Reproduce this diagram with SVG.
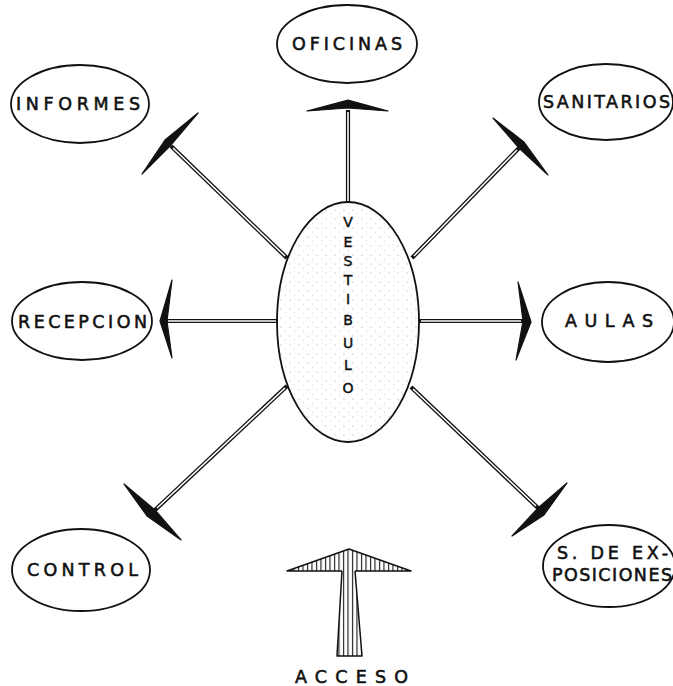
<svg xmlns="http://www.w3.org/2000/svg" width="673" height="686" viewBox="0 0 673 686">
<style>
.node{fill:none;stroke:#111;stroke-width:1.8}
.lbl{font-family:"DejaVu Sans","Liberation Sans",sans-serif;font-size:17.5px;fill:#111;stroke:#111;stroke-width:0.55;text-anchor:middle}
.vl{font-family:"DejaVu Sans","Liberation Sans",sans-serif;font-size:14px;fill:#111;stroke:#111;stroke-width:0.45;text-anchor:middle}
.shaftO{stroke:#111;stroke-width:4.2;fill:none;stroke-linecap:butt}
.shaftI{stroke:#fff;stroke-width:1.6;fill:none;stroke-linecap:butt}
.head{fill:#111;stroke:#111;stroke-width:1.2;stroke-linejoin:round}
</style>
<defs>
<pattern id="stip" patternUnits="userSpaceOnUse" width="9" height="9">
<circle cx="2" cy="3" r="0.5" fill="#888"/>
<circle cx="6.5" cy="7" r="0.45" fill="#999"/>
<circle cx="7" cy="1.5" r="0.35" fill="#aaa"/>
</pattern>
<pattern id="hatch" patternUnits="userSpaceOnUse" width="4.5" height="10">
<line x1="1.5" y1="0" x2="1.5" y2="10" stroke="#111" stroke-width="1.1"/>
</pattern>
</defs>
<rect width="673" height="686" fill="#fff"/>

<g id="connectors">
<!-- OFICINAS -->
<line class="shaftO" x1="348" y1="110" x2="348" y2="203"/>
<line class="shaftI" x1="348" y1="112" x2="348" y2="201"/>
<polygon class="head" points="307,111 348,100 388,111 348,108"/>
<!-- INFORMES -->
<line class="shaftO" x1="287" y1="258" x2="171" y2="146"/>
<line class="shaftI" x1="285" y1="256" x2="173" y2="148"/>
<polygon class="head" points="142,174 165,140 198,113 170,146"/>
<!-- SANITARIOS -->
<line class="shaftO" x1="412" y1="258" x2="519" y2="148"/>
<line class="shaftI" x1="414" y1="256" x2="517" y2="150"/>
<polygon class="head" points="493,118 524,142 548,175 519,148"/>
<!-- RECEPCION -->
<line class="shaftO" x1="166" y1="321" x2="278" y2="321"/>
<line class="shaftI" x1="168" y1="321" x2="276" y2="321"/>
<polygon class="head" points="172,280 160,321 172,358 167,321"/>
<!-- AULAS -->
<line class="shaftO" x1="419" y1="321" x2="523" y2="321"/>
<line class="shaftI" x1="421" y1="321" x2="521" y2="321"/>
<polygon class="head" points="518,282 531,322 516,360 523,321"/>
<!-- CONTROL -->
<line class="shaftO" x1="287" y1="386" x2="155" y2="510"/>
<line class="shaftI" x1="285" y1="388" x2="157" y2="508"/>
<polygon class="head" points="124,484 147,516 181,540 155,510"/>
<!-- S. DE EXPOSICIONES -->
<line class="shaftO" x1="411" y1="387" x2="538" y2="508"/>
<line class="shaftI" x1="413" y1="389" x2="536" y2="506"/>
<polygon class="head" points="567,483 544,515 512,536 538,508"/>
<!-- ACCESO -->
<g id="acceso-arrow">
<path d="M287,571 L349,549 L411,571 Z" fill="url(#hatch)" stroke="none"/>
<path d="M342,571 L355,571 L362,656 L337,656 Z" fill="url(#hatch)" stroke="none"/>
<path d="M342,571 L287,571 L349,549 L411,571 L355,571 M342,571 L337,656 L362,656 L355,571" fill="none" stroke="#111" stroke-width="1.5" stroke-linejoin="round"/>
</g>
</g>

<g id="vestibulo">
<ellipse cx="348" cy="322" rx="71" ry="120" fill="url(#stip)" stroke="#111" stroke-width="1.8"/>
<text class="vl"><tspan x="348" y="227">V</tspan><tspan x="348" y="247">E</tspan><tspan x="348" y="266">S</tspan><tspan x="348" y="285">T</tspan><tspan x="348" y="304">I</tspan><tspan x="348" y="325">B</tspan><tspan x="348" y="348">U</tspan><tspan x="348" y="370">L</tspan><tspan x="348" y="393">O</tspan></text>
</g>

<g id="oficinas">
<ellipse class="node" cx="347" cy="44" rx="70" ry="39"/>
<text class="lbl" x="347" y="50" textLength="110" lengthAdjust="spacing">OFICINAS</text>
</g>
<g id="informes">
<ellipse class="node" cx="80" cy="104" rx="69" ry="39"/>
<text class="lbl" x="78" y="110" textLength="124" lengthAdjust="spacing">INFORMES</text>
</g>
<g id="sanitarios">
<ellipse class="node" cx="606" cy="102" rx="67" ry="38"/>
<text class="lbl" x="606.5" y="108" textLength="127" lengthAdjust="spacing">SANITARIOS</text>
</g>
<g id="recepcion">
<ellipse class="node" cx="82" cy="321" rx="70" ry="39"/>
<text class="lbl" x="82.5" y="328" textLength="129" lengthAdjust="spacing">RECEPCION</text>
</g>
<g id="aulas">
<ellipse class="node" cx="608" cy="322" rx="66" ry="40"/>
<text class="lbl" x="609" y="327" textLength="88" lengthAdjust="spacing">AULAS</text>
</g>
<g id="control">
<ellipse class="node" cx="81" cy="570" rx="69" ry="41"/>
<text class="lbl" x="82.5" y="576" textLength="111" lengthAdjust="spacing">CONTROL</text>
</g>
<g id="exposiciones">
<ellipse class="node" cx="609" cy="566" rx="66" ry="41"/>
<text class="lbl" x="612.5" y="559" textLength="111" lengthAdjust="spacing">S. DE EX-</text>
<text class="lbl" x="612" y="581" textLength="120" lengthAdjust="spacing">POSICIONES</text>
</g>
<g id="acceso">
<text class="lbl" x="351.5" y="683" textLength="113" lengthAdjust="spacing">ACCESO</text>
</g>
</svg>
